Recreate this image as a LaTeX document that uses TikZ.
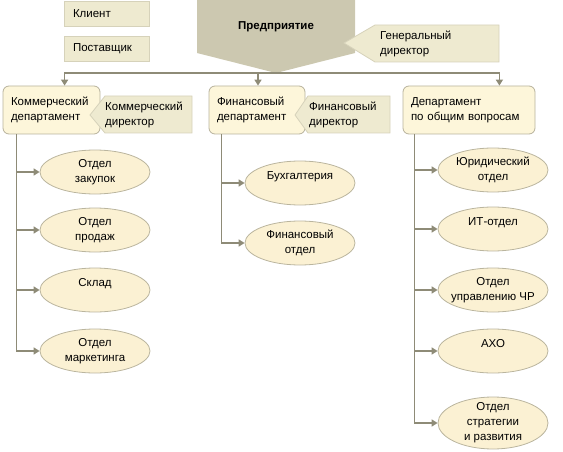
\documentclass[tikz,border=0pt]{standalone}
\usepackage{fontspec}
\setmainfont{Liberation Sans}
\usetikzlibrary{shapes.geometric,arrows.meta}
\definecolor{lightbg}{HTML}{EEEAD0}
\definecolor{lightbd}{HTML}{D6D2BA}
\definecolor{entbg}{HTML}{CCC8B0}
\definecolor{deptbg}{HTML}{FDF6DA}
\definecolor{deptbd}{HTML}{B7B29C}
\definecolor{ellbg}{HTML}{FBF1D3}
\definecolor{ellbd}{HTML}{BAB59E}
\definecolor{linec}{HTML}{8E8B77}
\tikzset{
  every node/.style={font=\fontsize{11.5}{15}\selectfont, text=black},
  legendbox/.style={draw=lightbd, fill=lightbg, line width=0.8pt, minimum width=85pt, minimum height=25pt, text width=67pt, inner xsep=9pt, inner ysep=0pt, align=left},
  deptbox/.style={draw=deptbd, fill=deptbg, line width=0.8pt, rounded corners=6pt, minimum height=48pt, inner xsep=8pt, inner ysep=0pt, align=left},
  unit/.style={ellipse, draw=ellbd, fill=ellbg, line width=0.8pt, minimum width=110pt, minimum height=44pt, inner sep=-12pt, align=center},
  callout/.style={fill=lightbg, draw=lightbd, line width=0.8pt},
  calltext/.style={anchor=west, inner sep=0pt, align=left},
  conn/.style={draw=linec, line width=1.6pt, -{Triangle[length=6pt,width=7pt]}},
}
\begin{document}
\begin{tikzpicture}[x=1pt,y=-1pt]
\useasboundingbox (0,0) rectangle (563,452);
% legend
\node[legendbox] (client) at (106.5,13.5) {Клиент};
\node[legendbox] (supplier) at (106.5,49) {Поставщик};
% enterprise
\path[fill=entbg] (197,0) -- (355,0) -- (355,53) -- (276,73) -- (197,53) -- cycle;
\node[font=\fontsize{11.5}{14}\selectfont\bfseries] (ent) at (276,27) {Предприятие};
\coordinate (entTip) at (276,73);
% general director callout
\path[callout] (344,43) -- (375,25) -- (499,25) -- (499,62) -- (375,62) -- cycle;
\node[calltext] (gendir) at (380,43.5) {Генеральный\\директор};
% departments
\node[deptbox, minimum width=97pt, text width=81pt] (com) at (51.5,110) {Коммерческий\\департамент};
\node[deptbox, minimum width=96pt, text width=80pt] (fin) at (257,110) {Финансовый\\департамент};
\node[deptbox, minimum width=132pt, text width=116pt] (gen) at (469,110) {Департамент\\по общим вопросам};
% director callouts
\path[callout] (90,115) -- (105,96) -- (192,96) -- (192,133) -- (105,133) -- cycle;
\node[calltext] (comdir) at (105,115) {Коммерческий\\директор};
\path[callout] (295,115) -- (308,96) -- (390,96) -- (390,133) -- (308,133) -- cycle;
\node[calltext] (findir) at (309,115) {Финансовый\\директор};
% bus
\draw[conn] (entTip) -| ([xshift=62pt]com.north west);
\draw[conn] (entTip) -| ([xshift=1pt]fin.north);
\draw[conn] (entTip) -| ([xshift=-36pt]gen.north east);
% commercial units
\node[unit] (c1) at (95,172) {Отдел\\закупок};
\node[unit] (c2) at (95,230) {Отдел\\продаж};
\node[unit] (c3) at (95,290) {Склад\\\phantom{x}};
\node[unit] (c4) at (95,351) {Отдел\\маркетинга};
\foreach \n in {c1,c2,c3,c4}
  \draw[conn] ([xshift=14pt]com.south west) |- (\n.west);
% financial units
\node[unit] (f1) at (300,183) {Бухгалтерия\\\phantom{x}};
\node[unit] (f2) at (300,243) {Финансовый\\отдел};
\foreach \n in {f1,f2}
  \draw[conn] ([xshift=13pt]fin.south west) |- (\n.west);
% general units
\node[unit] (g1) at (493,170) {Юридический\\отдел};
\node[unit] (g2) at (493,229) {ИТ-отдел\\\phantom{x}};
\node[unit] (g3) at (493,290) {Отдел\\управлению ЧР};
\node[unit] (g4) at (493,351) {АХО\\\phantom{x}};
\node[unit, minimum height=52pt] (g5) at (493,423) {Отдел\\стратегии\\и развития};
\foreach \n in {g1,g2,g3,g4,g5}
  \draw[conn] ([xshift=12pt]gen.south west) |- (\n.west);
\end{tikzpicture}
\end{document}
